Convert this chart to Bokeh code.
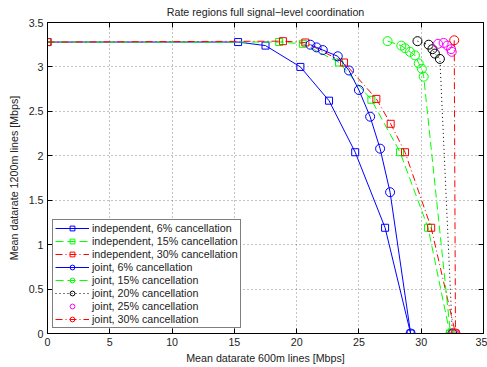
from bokeh.plotting import figure
from bokeh.models import Range1d, FixedTicker, LinearAxis, Legend
from bokeh.embed import file_html
from bokeh.resources import INLINE

# ---------------- data ----------------
x_ticks = [0, 5, 10, 15, 20, 25, 30, 35]
y_ticks = [0, 0.5, 1, 1.5, 2, 2.5, 3, 3.5]

ind6_x = [0, 15.3, 17.5, 20.3, 22.6, 24.7, 27.1, 29.15]
ind6_y = [3.28, 3.28, 3.24, 3.0, 2.62, 2.04, 1.19, 0]

ind15_x = [0, 18.6, 20.5, 23.4, 26.0, 28.3, 30.55, 32.3]
ind15_y = [3.28, 3.28, 3.26, 3.05, 2.63, 2.04, 1.19, 0]

ind30_x = [0, 18.9, 20.7, 23.8, 26.4, 27.55, 28.7, 30.8, 32.75]
ind30_y = [3.28, 3.29, 3.275, 3.05, 2.64, 2.36, 2.04, 1.19, 0]

joint6_x = [21.1, 21.6, 22.1, 23.3, 24.2, 25.0, 25.9, 26.7, 27.5, 29.15]
joint6_y = [3.25, 3.22, 3.19, 3.12, 2.96, 2.74, 2.44, 2.08, 1.59, 0]

joint15_x = [27.3, 28.4, 28.7, 29.1, 29.5, 29.8, 30.05, 30.2, 32.35]
joint15_y = [3.29, 3.24, 3.21, 3.17, 3.13, 3.04, 2.98, 2.89, 0]

joint20_x = [29.7, 30.6, 30.9, 31.1, 31.5, 32.5]
joint20_y = [3.29, 3.25, 3.2, 3.15, 3.09, 0]

joint25_x = [31.35, 31.8, 32.1, 32.4, 32.45, 32.6]
joint25_y = [3.26, 3.27, 3.24, 3.2, 3.17, 0]

joint30_x = [32.65, 32.75]
joint30_y = [3.30, 0]

FONT = "Liberation Sans"
FS = "10.7px"

p = figure(frame_width=436, frame_height=311,
           x_range=Range1d(0, 35), y_range=Range1d(0, 3.5),
           output_backend="svg", toolbar_location=None,
           min_border_left=47, min_border_right=4, min_border_top=22,
           min_border_bottom=34,
           title="Rate regions full signal\u2212level coordination")
p.title.align = "center"
p.title.vertical_align = "top"
p.title.text_font = FONT
p.title.text_font_size = FS
p.title.text_font_style = "normal"
p.title.text_color = "#222222"
p.title.standoff = 6
p.title.offset = 0

p.background_fill_color = "white"
p.border_fill_color = "white"
p.outline_line_color = "black"
p.outline_line_width = 1

for ax, ticks in ((p.xaxis[0], x_ticks), (p.yaxis[0], y_ticks)):
    ax.ticker = FixedTicker(ticks=ticks)
    ax.major_tick_in = 5
    ax.major_tick_out = 0
    ax.minor_tick_line_color = None
    ax.axis_line_color = "black"
    ax.major_tick_line_color = "black"
    ax.major_label_text_font = FONT
    ax.major_label_text_font_size = FS
    ax.major_label_text_color = "#222222"
    ax.axis_label_text_font = FONT
    ax.axis_label_text_font_size = FS
    ax.axis_label_text_font_style = "normal"
    ax.axis_label_text_color = "#222222"
    ax.major_label_standoff = 4
    ax.axis_label_standoff = 3

p.xaxis.axis_label = "Mean datarate 600m lines [Mbps]"
p.yaxis.axis_label = "Mean datarate 1200m lines [Mbps]"
p.yaxis.axis_label_standoff = 6
p.xaxis.major_label_overrides = {t: str(t) for t in x_ticks}
p.yaxis.major_label_overrides = {t: ("%g" % t) for t in y_ticks}

for loc, ticks in (("above", x_ticks), ("right", y_ticks)):
    a = LinearAxis(ticker=FixedTicker(ticks=ticks))
    a.major_tick_in = 5
    a.major_tick_out = 0
    a.minor_tick_line_color = None
    a.axis_line_color = "black"
    a.major_label_text_font_size = "0px"
    a.major_label_standoff = 0
    a.major_label_text_alpha = 0
    p.add_layout(a, loc)

for g, ticks in ((p.xgrid[0], x_ticks), (p.ygrid[0], y_ticks)):
    g.ticker = FixedTicker(ticks=ticks)
    g.grid_line_color = "#555555"
    g.grid_line_dash = "1 3"
    g.grid_line_alpha = 0.7
    g.grid_line_width = 1

BLUE, GREEN, RED, BLACK, MAG = "#0000ff", "#00ff00", "#ff0000", "#000000", "#ff00ff"
series = [
    ("independent, 6% cancellation", ind6_x, ind6_y, BLUE, "solid", "square"),
    ("independent, 15% cancellation", ind15_x, ind15_y, GREEN, "8 4", "square"),
    ("independent, 30% cancellation", ind30_x, ind30_y, RED, "7 3 1 3", "square"),
    ("joint, 6% cancellation", joint6_x, joint6_y, BLUE, "solid", "circle"),
    ("joint, 15% cancellation", joint15_x, joint15_y, GREEN, "8 4", "circle"),
    ("joint, 20% cancellation", joint20_x, joint20_y, BLACK, "1 3", "circle"),
    ("joint, 25% cancellation", joint25_x, joint25_y, MAG, None, "circle"),
    ("joint, 30% cancellation", joint30_x, joint30_y, RED, "7 3 1 3", "circle"),
]

items = []
for label, xs, ys, col, dash, marker in series:
    rs = []
    if dash is not None:
        rs.append(p.line(xs, ys, line_color=col, line_width=1, line_dash=dash))
    size = 7 if marker == "square" else 9
    rs.append(p.scatter(xs, ys, marker=marker, size=size, fill_color=None,
                        line_color=col, line_width=1))
    items.append((label, rs))

leg = Legend(items=items, location="bottom_left")
leg.label_text_font = FONT
leg.label_text_font_size = FS
leg.label_text_color = "#222222"
leg.label_height = 12
leg.glyph_height = 12
leg.glyph_width = 34
leg.spacing = 1
leg.padding = 2
leg.margin = 5
leg.label_standoff = 3
leg.border_line_color = "black"
leg.border_line_width = 1
leg.background_fill_color = "white"
leg.background_fill_alpha = 1
p.add_layout(leg)

open("out.html", "w").write(file_html(p, INLINE))
